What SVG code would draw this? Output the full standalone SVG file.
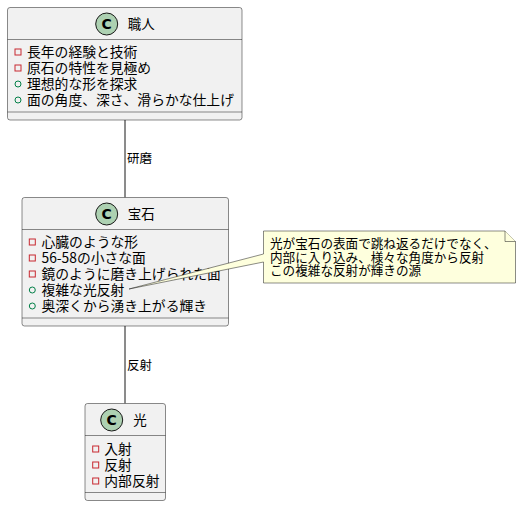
<svg xmlns="http://www.w3.org/2000/svg" width="524" height="506" viewBox="0 0 524 506">
<style>
text{font-family:"Noto Sans CJK JP","Noto Sans",sans-serif;fill:#000}
.box{fill:#F1F1F1;stroke:#181818;stroke-width:0.5}
.sep{stroke:#181818;stroke-width:0.5}
.circ{fill:#ADD1B2;stroke:#181818;stroke-width:1}
.c{font-family:"DejaVu Sans","Liberation Sans",sans-serif;font-weight:bold;font-size:14px;text-anchor:middle}
.title{font-size:13.5px}
.mem{font-size:13.8px}
.priv{fill:none;stroke:#C82930;stroke-width:1}
.pub{fill:none;stroke:#038048;stroke-width:1}
.lbl{font-size:12.5px}
.edge{stroke:#181818;stroke-width:1;fill:none}
.note{fill:#FEFFDD;stroke:#181818;stroke-width:0.5}
.nt{font-size:12.6px}
</style>
<g id="connectors">
<line class="edge" x1="125" y1="120" x2="125" y2="197.5"/>
<text class="lbl" x="127" y="163">研磨</text>
<line class="edge" x1="125" y1="326" x2="125" y2="403.5"/>
<text class="lbl" x="127" y="369.5">反射</text>
</g>
<g id="shokunin">
<rect class="box" x="7.5" y="7.5" width="234.5" height="112.5" rx="2.5"/>
<circle class="circ" cx="106.7" cy="24" r="11"/>
<text class="c" x="106.7" y="29">C</text>
<text class="title" x="127.7" y="29">職人</text>
<line class="sep" x1="7.5" y1="39.5" x2="242" y2="39.5"/>
<rect class="priv" x="15" y="49" width="6" height="6"/>
<text class="mem" x="27" y="57">長年の経験と技術</text>
<rect class="priv" x="15" y="65" width="6" height="6"/>
<text class="mem" x="27" y="73">原石の特性を見極め</text>
<circle class="pub" cx="18" cy="84" r="3"/>
<text class="mem" x="27" y="89">理想的な形を探求</text>
<circle class="pub" cx="18" cy="100" r="3"/>
<text class="mem" x="27" y="105">面の角度、深さ、滑らかな仕上げ</text>
<line class="sep" x1="7.5" y1="112" x2="242" y2="112"/>
</g>
<g id="houseki">
<rect class="box" x="22" y="197.5" width="206.5" height="128.5" rx="2.5"/>
<circle class="circ" cx="106.7" cy="214" r="11"/>
<text class="c" x="106.7" y="219">C</text>
<text class="title" x="127.7" y="219">宝石</text>
<line class="sep" x1="22" y1="229.5" x2="228.5" y2="229.5"/>
<rect class="priv" x="29.3" y="239" width="6" height="6"/>
<text class="mem" x="41.5" y="247">心臓のような形</text>
<rect class="priv" x="29.3" y="255" width="6" height="6"/>
<text class="mem" x="41.5" y="263">56-58の小さな面</text>
<rect class="priv" x="29.3" y="271" width="6" height="6"/>
<text class="mem" x="41.5" y="279">鏡のように磨き上げられた面</text>
<circle class="pub" cx="32.3" cy="290" r="3"/>
<text class="mem" x="41.5" y="295">複雑な光反射</text>
<circle class="pub" cx="32.3" cy="306" r="3"/>
<text class="mem" x="41.5" y="311">奥深くから湧き上がる輝き</text>
<line class="sep" x1="22" y1="318" x2="228.5" y2="318"/>
</g>
<g id="hikari">
<rect class="box" x="85" y="403.5" width="80.5" height="97" rx="2.5"/>
<circle class="circ" cx="111.7" cy="420" r="11"/>
<text class="c" x="111.7" y="425">C</text>
<text class="title" x="133.3" y="425">光</text>
<line class="sep" x1="85" y1="435.5" x2="165.5" y2="435.5"/>
<rect class="priv" x="92.7" y="446" width="6" height="6"/>
<text class="mem" x="104.3" y="454.3">入射</text>
<rect class="priv" x="92.7" y="462" width="6" height="6"/>
<text class="mem" x="104.3" y="470.3">反射</text>
<rect class="priv" x="92.7" y="478" width="6" height="6"/>
<text class="mem" x="104.3" y="486.3">内部反射</text>
<line class="sep" x1="85" y1="492.5" x2="165.5" y2="492.5"/>
</g>
<g id="note">
<path class="note" d="M263.5,231 L505,231 L515.5,241.5 L515.5,283 L263.5,283 L263.5,262 L129,289 L263.5,254 Z"/>
<path class="note" d="M505,231 L505,241.5 L515.5,241.5"/>
<text class="nt" x="270" y="248">光が宝石の表面で跳ね返るだけでなく、</text>
<text class="nt" x="270" y="261.5">内部に入り込み、様々な角度から反射</text>
<text class="nt" x="270" y="275">この複雑な反射が輝きの源</text>
</g>
</svg>
